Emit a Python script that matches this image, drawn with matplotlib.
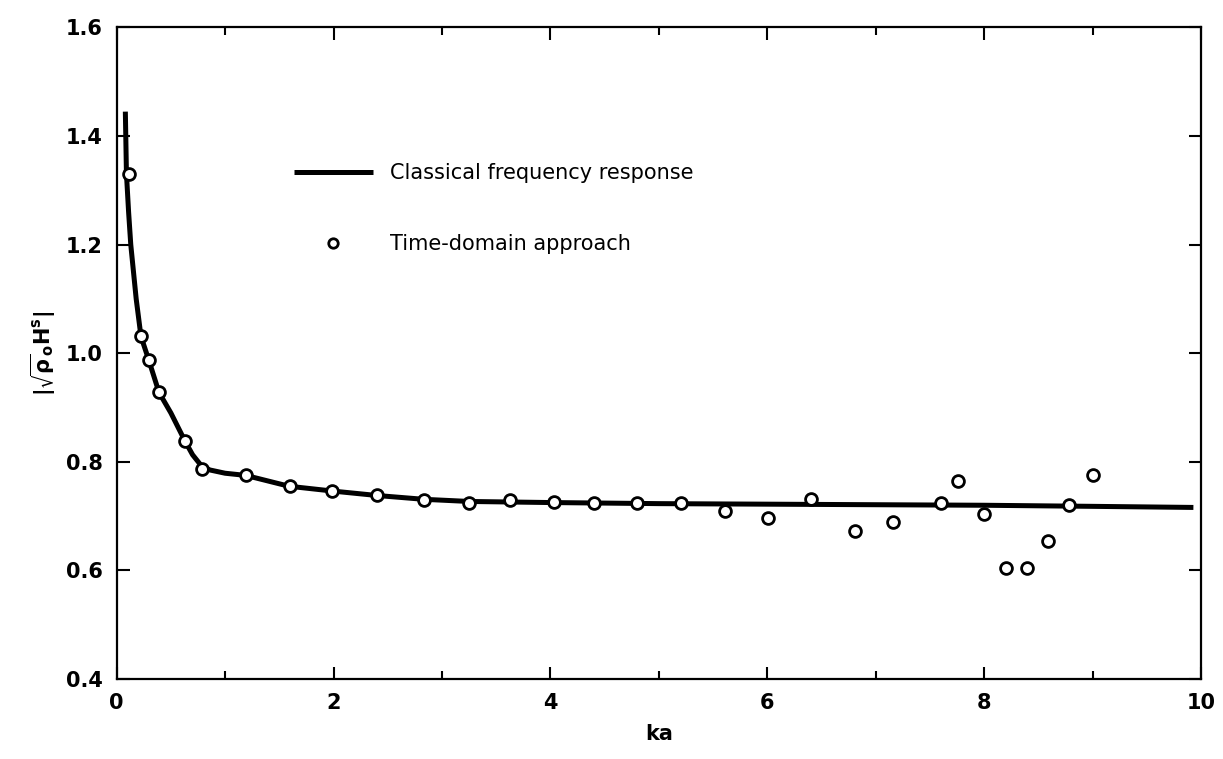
import matplotlib
matplotlib.use('Agg')
import matplotlib.pyplot as plt
from matplotlib.ticker import MultipleLocator

plt.rc('font', family='DejaVu Sans', weight='bold', size=15)
plt.rc('mathtext', fontset='dejavusans', default='bf')

# classical frequency response
ka_curve = [0.08, 0.09, 0.11, 0.13, 0.18, 0.224, 0.295, 0.39, 0.5, 0.628, 0.70, 0.78,
            0.86, 1.0, 1.19, 1.59, 2.0, 2.4, 2.83, 3.25, 4.0, 5.0, 6.0, 7.0, 8.0, 9.0, 9.93]
h_curve = [1.445, 1.331, 1.26, 1.20, 1.10, 1.031, 0.988, 0.928, 0.89, 0.839, 0.813, 0.793,
           0.785, 0.779, 0.775, 0.755, 0.746, 0.738, 0.731, 0.727, 0.725, 0.723, 0.722,
           0.721, 0.720, 0.718, 0.716]

# time-domain approach points
ka_pts = [0.11, 0.224, 0.295, 0.39, 0.628, 0.788, 1.19, 1.60, 1.99, 2.40, 2.83,
          3.25, 3.63, 4.03, 4.40, 4.80, 5.20, 5.61, 6.01, 6.40, 6.81, 7.16,
          7.60, 7.76, 8.00, 8.20, 8.40, 8.59, 8.78, 9.00]
h_pts = [1.331, 1.031, 0.988, 0.928, 0.839, 0.787, 0.776, 0.755, 0.747, 0.738, 0.730,
         0.724, 0.729, 0.726, 0.724, 0.724, 0.724, 0.709, 0.697, 0.732, 0.672, 0.690,
         0.725, 0.764, 0.703, 0.605, 0.605, 0.655, 0.720, 0.776]

fig = plt.figure(figsize=(12.23, 7.59), dpi=100)
ax = fig.add_axes([0.0954, 0.1054, 0.8866, 0.8584])

ax.plot(ka_curve, h_curve, color='black', lw=3.6, solid_capstyle='butt',
        solid_joinstyle='round', label='Classical frequency response')
ax.plot(ka_pts, h_pts, linestyle='none', marker='o', ms=8.5, mfc='white',
        mec='black', mew=2.0, label='Time-domain approach')

ax.set_xlim(0, 10)
ax.set_ylim(0.4, 1.6)
ax.xaxis.set_major_locator(MultipleLocator(2))
ax.xaxis.set_minor_locator(MultipleLocator(1))
ax.yaxis.set_major_locator(MultipleLocator(0.2))
ax.xaxis.set_major_formatter(plt.FuncFormatter(lambda v, p: '%d' % v))
ax.yaxis.set_major_formatter(plt.FuncFormatter(lambda v, p: '%.1f' % v))
ax.tick_params(which='both', direction='in', top=True, right=True, width=1.5)
ax.tick_params(which='major', length=9, labelsize=15, pad=10)
ax.tick_params(which='minor', length=6)
for s in ax.spines.values():
    s.set_linewidth(1.6)

ax.set_xlabel('ka', fontsize=15, fontweight='bold', labelpad=8)
ax.set_ylabel(r'$|\sqrt{\rho}_{o}\mathrm{H}^{s}|$', fontsize=15, labelpad=6)

leg = ax.legend(loc='upper left', bbox_to_anchor=(0.146, 0.821), frameon=False,
                handlelength=3.8, handletextpad=0.8, labelspacing=2.45,
                markerscale=0.8, prop={'weight': 'normal', 'size': 15})

fig.savefig('out.png', dpi=100)
